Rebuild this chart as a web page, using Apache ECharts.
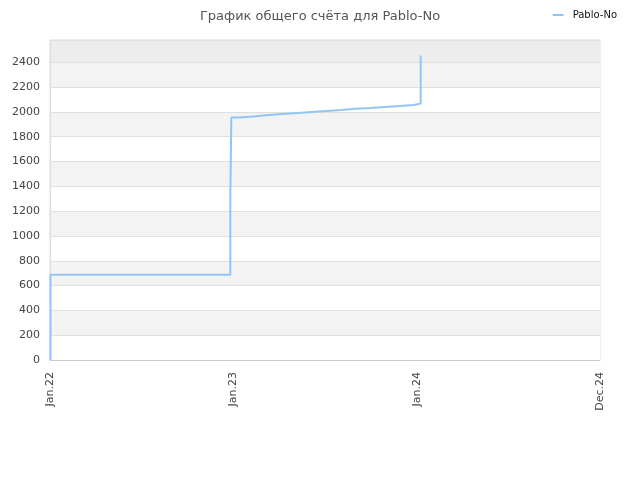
<!DOCTYPE html>
<html>
<head>
<meta charset="utf-8">
<script src="https://cdn.jsdelivr.net/npm/echarts@6/dist/echarts.min.js"></script>
<style>html,body{margin:0;padding:0;background:#fff}#c{width:640px;height:480px}</style>
</head>
<body>
<div id="c"></div>
<script>
// Day index since 1 Jan 2022
var tickDays = [0, 365, 730, 1095];
var tickLabels = ['Jan.22', 'Jan.23', 'Jan.24', 'Dec.24'];
var stepDays = [1, 1, 359, 361, 377, 405, 435, 463, 493, 521, 550, 580, 608, 638, 666, 696, 724, 738];
var stepValues = [0, 688, 1317, 1956, 1964, 1975, 1983, 1991, 1999, 2007, 2015, 2026, 2031, 2039, 2047, 2056, 2067, 2456];
var seriesName = 'Pablo-No';
var titleText = 'График общего счёта для Pablo-No';

var data = stepDays.map(function (d, i) { return [d, stepValues[i]]; });
var bandColors = [];
for (var i = 0; i < 12; i++) bandColors.push(i % 2 === 0 ? '#ffffff' : '#f3f3f3');
bandColors.push('#ededed');

var chart = echarts.init(document.getElementById('c'), null, {renderer: 'canvas'});
chart.setOption({
  animation: false,
  textStyle: {fontFamily: 'DejaVu Sans'},
  title: {
    text: titleText, left: 'center', top: 5,
    textStyle: {fontSize: 13, fontWeight: 'normal', color: '#555', fontFamily: 'DejaVu Sans'}
  },
  legend: {
    right: 18, top: 5, icon: 'rect', itemWidth: 11, itemHeight: 2, itemGap: 6,
    textStyle: {fontSize: 10, color: '#111', fontFamily: 'DejaVu Sans', padding: [0, 0, 0, 4]},
    data: [seriesName]
  },
  grid: {left: 50, right: 40, top: 40, bottom: 120, show: true, borderColor: '#dddddd', borderWidth: 1, containLabel: false},
  xAxis: {
    type: 'value', min: 0, max: 1095, interval: 365,
    axisLine: {show: true, lineStyle: {color: '#cccccc'}},
    axisTick: {show: false},
    splitLine: {show: false},
    axisLabel: {
      rotate: 90, fontSize: 11, color: '#444', margin: 12,
      formatter: function (v) { var k = tickDays.indexOf(v); return k >= 0 ? tickLabels[k] : ''; }
    }
  },
  yAxis: {
    type: 'value', min: 0, max: 2580, interval: 200,
    axisLine: {show: true, lineStyle: {color: '#dddddd'}},
    axisTick: {show: false},
    axisLabel: {fontSize: 11, color: '#444', margin: 10, showMaxLabel: false,
      formatter: function (v) { return String(v); }},
    splitLine: {show: true, lineStyle: {color: '#e0e0e0'}},
    splitArea: {show: true, areaStyle: {color: bandColors}}
  },
  series: [{
    name: seriesName, type: 'line', step: 'end', showSymbol: false, symbol: 'none',
    lineStyle: {color: '#92c5f5', width: 2}, itemStyle: {color: '#92c5f5'},
    data: data
  }]
});
</script>
</body>
</html>
